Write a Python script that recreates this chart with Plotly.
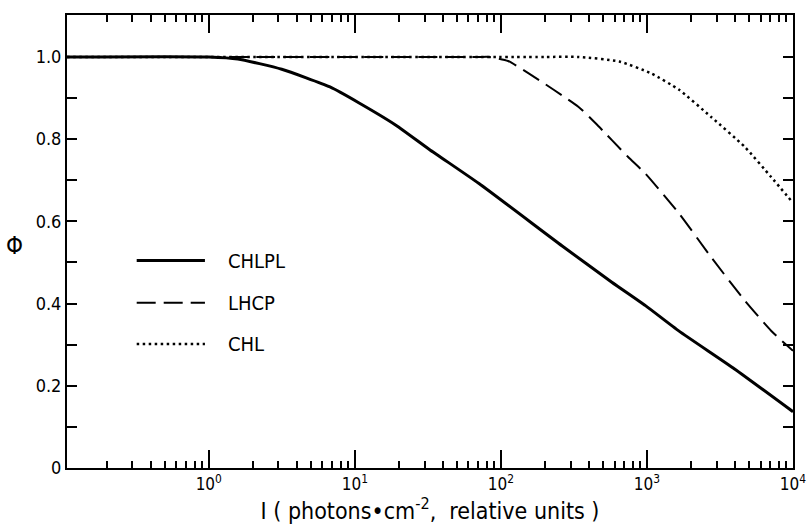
import plotly.graph_objects as go
import numpy as np

# data (intensity, quantum yield)
chlpl_I = [0.107, 1.0, 1.58, 3.16, 6.76, 10.7, 19.1, 32.4, 70.8, 263.0, 575.0, 977.0, 1660.0, 3980.0, 10000.0]
chlpl_phi = [1.0, 1.0, 0.995, 0.97, 0.927, 0.888, 0.834, 0.775, 0.692, 0.540, 0.452, 0.395, 0.333, 0.241, 0.137]

lhcp_I = [0.107, 70.8, 83.2, 112.0, 155.0, 339.0, 447.0, 741.0, 977.0, 1660.0, 2750.0, 4680.0, 7080.0, 10000.0]
lhcp_phi = [1.0, 1.0, 1.0, 0.99, 0.960, 0.879, 0.838, 0.757, 0.716, 0.619, 0.513, 0.407, 0.334, 0.285]

chl_I = [0.107, 200.0, 339.0, 646.0, 1070.0, 1660.0, 2750.0, 4680.0, 7080.0, 10000.0]
chl_phi = [1.0, 1.0, 1.0, 0.989, 0.960, 0.920, 0.854, 0.781, 0.708, 0.645]

x_tickvals = [1, 10, 100, 1000, 10000]
x_ticktext = ["10<sup>0</sup>", "10<sup>1</sup>", "10<sup>2</sup>", "10<sup>3</sup>", "10<sup>4</sup>"]
y_tickvals = [0, 0.2, 0.4, 0.6, 0.8, 1.0]
y_ticktext = ["0", "0.2", "0.4", "0.6", "0.8", "1.0"]

names = ["CHLPL", "LHCP", "CHL"]
FONT = "DejaVu Sans Condensed, Liberation Sans Narrow, Arial Narrow, sans-serif"

DASHES = ["solid", "19px,8px", "2.5px,3.5px"]
WIDTHS = [3, 2, 2.5]

fig = go.Figure()
for xs, ys, nm, ds, w in zip([chlpl_I, lhcp_I, chl_I], [chlpl_phi, lhcp_phi, chl_phi], names, DASHES, WIDTHS):
    fig.add_trace(go.Scatter(x=xs, y=ys, mode="lines", name=nm,
                             line=dict(color="black", width=w, dash=ds, shape="spline", smoothing=0.5)))

# manual legend
legend_y = [0.458, 0.365, 0.274]
for nm, yy, ds, w in zip(names, legend_y, DASHES, WIDTHS):
    fig.add_shape(type="line", xref="x domain", yref="y domain",
                  x0=0.096, x1=0.19, y0=yy, y1=yy,
                  line=dict(color="black", width=w, dash=ds))
    fig.add_annotation(x=0.219, y=yy, xref="x domain", yref="y domain", text=nm,
                       showarrow=False, xanchor="left", yanchor="middle",
                       font=dict(size=20, color="black", family=FONT))

fig.add_annotation(x=-0.072, y=0.49, xref="x domain", yref="y domain", text="Φ",
                   showarrow=False, xanchor="center", yanchor="middle",
                   font=dict(size=24, color="black", family=FONT))

fig.update_xaxes(type="log", range=[np.log10(0.107), 4.0],
                 tickvals=x_tickvals, ticktext=x_ticktext,
                 ticks="inside", ticklen=18, tickwidth=1.5, tickcolor="black",
                 minor=dict(ticks="inside", ticklen=7, tickcolor="black", dtick="D1", showgrid=False),
                 showline=True, linewidth=2, linecolor="black", mirror="ticks",
                 showgrid=False, zeroline=False, automargin=False,
                 tickfont=dict(size=17, color="black", family=FONT),
                 title=dict(text="I ( photons•cm<sup>-2</sup>,  relative units )",
                            font=dict(size=23, color="black", family=FONT), standoff=8))
fig.update_yaxes(range=[0, 1.102],
                 tickvals=y_tickvals, ticktext=y_ticktext,
                 ticks="inside", ticklen=10, tickwidth=1.5, tickcolor="black",
                 minor=dict(ticks="inside", ticklen=10, tickcolor="black", dtick=0.1, tick0=0, showgrid=False),
                 showline=True, linewidth=2, linecolor="black", mirror="ticks",
                 showgrid=False, zeroline=False, automargin=False,
                 tickfont=dict(size=18, color="black", family=FONT))

fig.update_layout(width=811, height=531, showlegend=False,
                  plot_bgcolor="white", paper_bgcolor="white",
                  margin=dict(l=67, r=18, t=15, b=63))

fig.write_html("out.html")
